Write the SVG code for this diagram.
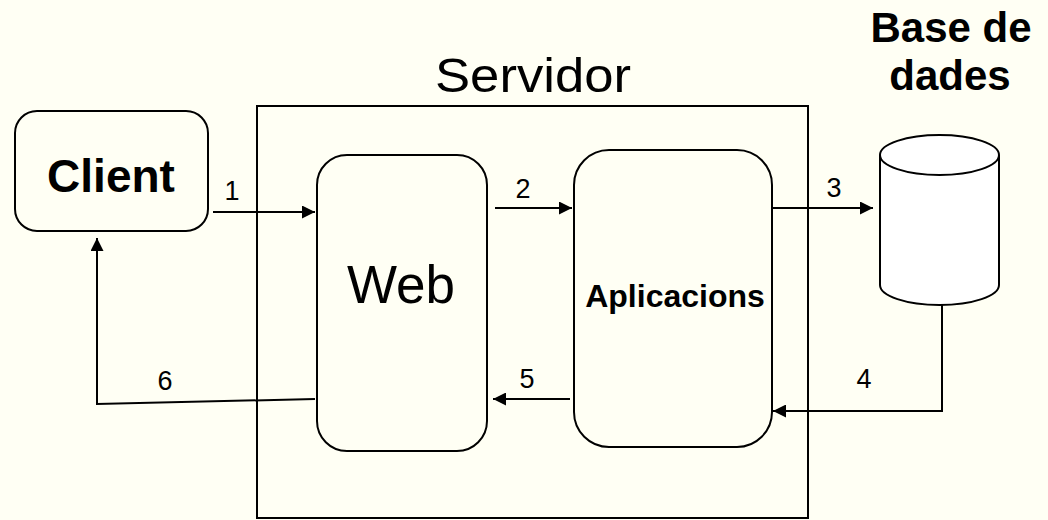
<svg xmlns="http://www.w3.org/2000/svg" width="1048" height="520" viewBox="0 0 1048 520">
<style>
.box{fill:none;stroke:#000;stroke-width:2}
.line{fill:none;stroke:#000;stroke-width:2}
.t{font-family:"Liberation Sans",Arial,sans-serif;fill:#000}
.b{font-weight:bold}
.n{font-size:27px;text-anchor:middle}
</style>
<defs>
<marker id="ah" viewBox="0 0 10 10" refX="10" refY="5" markerWidth="15" markerHeight="13" markerUnits="userSpaceOnUse" orient="auto">
<path d="M0,0 L10,5 L0,10 z" fill="#000"/>
</marker>
</defs>
<rect width="1048" height="520" fill="#FFFFF4"/>
<g id="servidor">
<rect class="box" x="257" y="106" width="551" height="412"/>
<text class="t" x="533" y="92" font-size="49" text-anchor="middle" textLength="196" lengthAdjust="spacingAndGlyphs">Servidor</text>
</g>
<g id="client">
<rect class="box" x="15" y="111" width="193" height="120" rx="22"/>
<text class="t b" x="111" y="192" font-size="46" text-anchor="middle">Client</text>
</g>
<g id="web">
<rect class="box" x="317" y="155" width="170" height="296" rx="30"/>
<text class="t" x="401" y="303" font-size="53" text-anchor="middle">Web</text>
</g>
<g id="aplicacions">
<rect class="box" x="574" y="150" width="198" height="297" rx="35"/>
<text class="t b" x="675" y="307" font-size="32" text-anchor="middle">Aplicacions</text>
</g>
<g id="basededades">
<path d="M880,155 L880,285 A59.5,20 0 0 0 999,285 L999,155" fill="#fff" stroke="#000" stroke-width="2"/>
<ellipse cx="939.5" cy="155" rx="59.5" ry="20" fill="#fff" stroke="#000" stroke-width="2"/>
<text class="t b" x="951" y="42" font-size="42" text-anchor="middle">Base de</text>
<text class="t b" x="950" y="90" font-size="42" text-anchor="middle">dades</text>
</g>
<g id="connectors">
<line class="line" x1="213" y1="212" x2="315" y2="212" marker-end="url(#ah)"/>
<line class="line" x1="495" y1="208" x2="572" y2="208" marker-end="url(#ah)"/>
<line class="line" x1="772" y1="208" x2="873" y2="208" marker-end="url(#ah)"/>
<polyline class="line" points="942,305 942,411 773,411" marker-end="url(#ah)"/>
<line class="line" x1="570" y1="399" x2="493" y2="399" marker-end="url(#ah)"/>
<polyline class="line" points="315,399 97,404 97,238" marker-end="url(#ah)"/>
<text class="t n" x="232" y="200">1</text>
<text class="t n" x="523" y="198">2</text>
<text class="t n" x="834" y="197">3</text>
<text class="t n" x="864" y="388">4</text>
<text class="t n" x="527" y="388">5</text>
<text class="t n" x="165" y="390">6</text>
</g>
</svg>
